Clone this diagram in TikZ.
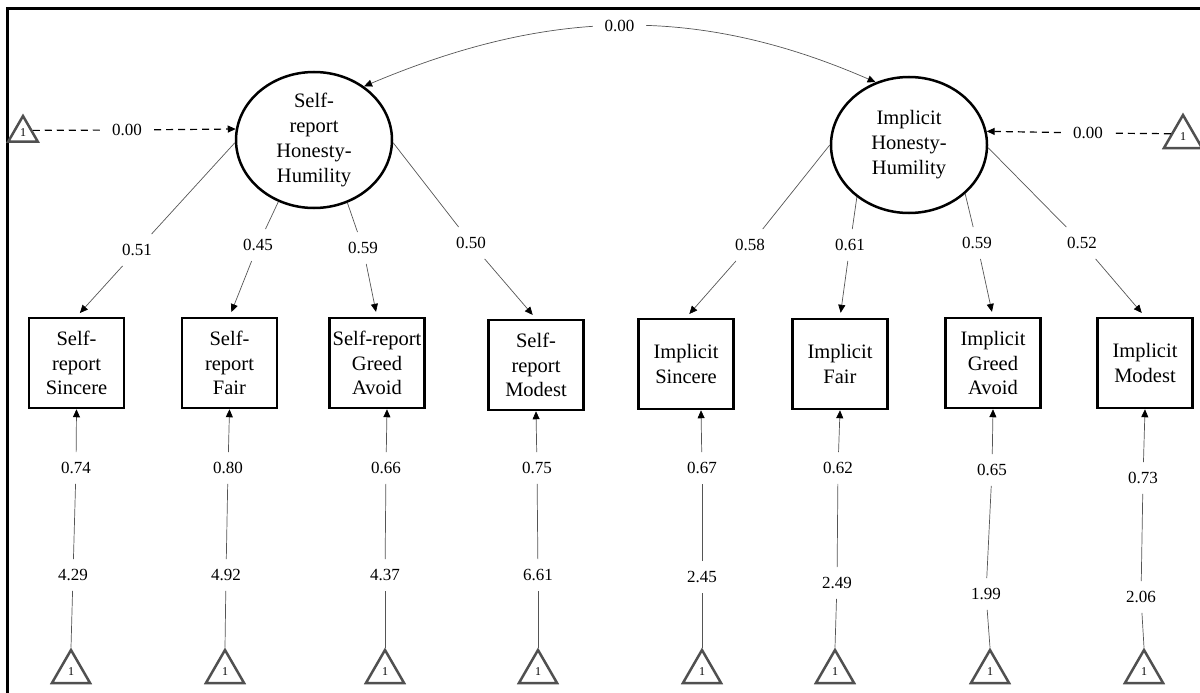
\documentclass[tikz,border=0pt]{standalone}
\usepackage{fontspec}
\setmainfont{Liberation Serif}
\usetikzlibrary{shapes.geometric,arrows.meta}
\definecolor{lg}{RGB}{85,85,85}
\definecolor{tg}{RGB}{80,80,80}
\begin{document}
\begin{tikzpicture}[x=1pt,y=-1pt,
  lat/.style={ellipse,draw,line width=2.5pt,minimum width=156pt,minimum height=136pt,inner sep=0pt,align=center,font=\fontsize{20.5}{25}\selectfont},
  obs/.style={rectangle,draw,line width=2.5pt,minimum width=95pt,minimum height=90pt,inner sep=0pt,align=center,font=\fontsize{20.5}{24.5}\selectfont},
  tri/.style={regular polygon,regular polygon sides=3,draw=tg,line width=2.5pt,minimum size=44pt,inner sep=0pt,font=\fontsize{12}{12}\selectfont},
  stri/.style={tri,minimum size=34pt},
  lab/.style={font=\fontsize{17}{17}\selectfont,inner xsep=12pt,inner ysep=10pt},
  con/.style={draw=lg,line width=0.7pt},
  tip/.style={-{Triangle[length=8pt,width=7pt,color=black]}},
  arr/.style={con,tip},
  dsh/.style={draw=black,line width=1.2pt,dash pattern=on 7pt off 5pt}
]
\useasboundingbox (0,0) rectangle (1200,693);
\draw[line width=3pt] (7.5,693) -- (7.5,8.5) -- (1200,8.5);

% latent variables
\node[lat] (L) at (314,140) {Self-\\report\\Honesty-\\Humility};
\node[lat] (R) at (909,145) {Implicit\\Honesty-\\Humility};

% observed
\node[obs] (B1) at (76.5,363) {Self-\\report\\Sincere};
\node[obs] (B2) at (229.5,363) {Self-\\report\\Fair};
\node[obs] (B3) at (377,363) {Self-report\\Greed\\Avoid};
\node[obs] (B4) at (536,365) {Self-\\report\\Modest};
\node[obs] (B5) at (686,364) {Implicit\\Sincere};
\node[obs] (B6) at (840,364) {Implicit\\Fair};
\node[obs] (B7) at (993,363) {Implicit\\Greed\\Avoid};
\node[obs] (B8) at (1145,363) {Implicit\\Modest};

% constants
\node[stri] (TL) at (23,133) {\raisebox{-3pt}{1}};
\node[tri] (TR) at (1183,137) {\raisebox{-3pt}{1}};
\node[tri] (T1) at (71,672) {\raisebox{-4pt}{1}};
\node[tri] (T2) at (225,672) {\raisebox{-4pt}{1}};
\node[tri] (T3) at (385,672) {\raisebox{-4pt}{1}};
\node[tri] (T4) at (538,672) {\raisebox{-4pt}{1}};
\node[tri] (T5) at (702,672) {\raisebox{-4pt}{1}};
\node[tri] (T6) at (835,672) {\raisebox{-4pt}{1}};
\node[tri] (T7) at (990,672) {\raisebox{-4pt}{1}};
\node[tri] (T8) at (1144,672) {\raisebox{-4pt}{1}};

% covariance arc
\draw[con,{Triangle[length=8pt,width=7pt,color=black]}-{Triangle[length=8pt,width=7pt,color=black]}]
  (L.47) .. controls (545,10) and (694,3) .. (R.118)
  node[lab,pos=0.5,fill=white,inner ysep=3pt] (a0) {0.00};

% means of latents (dashed)
\node[lab] (d1) at (127,130) {0.00};
\draw[dsh] (TL.15) -- (d1);
\draw[dsh,tip] (d1) -- (L.172);
\node[lab] (d2) at (1088,133) {0.00};
\draw[dsh] (TR.165) -- (d2);
\draw[dsh,tip] (d2) -- (R.10);

% loadings
\node[lab] (l1) at (137,250) {0.51};
\node[lab] (l2) at (258,245) {0.45};
\node[lab] (l3) at (363,248) {0.59};
\node[lab] (l4) at (471,243) {0.50};
\node[lab] (l5) at (750,245) {0.58};
\node[lab] (l6) at (850,245) {0.61};
\node[lab] (l7) at (977,243) {0.59};
\node[lab] (l8) at (1082,243) {0.52};
\draw[con] (L.182) -- (l1); \draw[arr,shorten >=5pt] (l1) -- (B1.north);
\draw[con] (L.240) -- (l2); \draw[arr,shorten >=5pt] (l2) -- (B2.north);
\draw[con] (L.298) -- (l3); \draw[arr,shorten >=5pt] (l3) -- (B3.north);
\draw[con] (L.358) -- (l4); \draw[arr,shorten >=5pt] (l4) -- (B4.north);
\draw[con] (R.180) -- (l5); \draw[arr,shorten >=5pt] (l5) -- (B5.north);
\draw[con] (R.225) -- (l6); \draw[arr,shorten >=5pt] (l6) -- (B6.north);
\draw[con] (R.319) -- (l7); \draw[arr,shorten >=5pt] (l7) -- (B7.north);
\draw[con] (R.358) -- (l8); \draw[arr,shorten >=5pt] (l8) -- (B8.north);

% intercepts and residual paths
\node[lab] (u1) at (73,575) {4.29};   \node[lab] (v1) at (76,468) {0.74};
\node[lab] (u2) at (226,575) {4.92};  \node[lab] (v2) at (228,468) {0.80};
\node[lab] (u3) at (385,575) {4.37};  \node[lab] (v3) at (386,468) {0.66};
\node[lab] (u4) at (538,575) {6.61};  \node[lab] (v4) at (537,468) {0.75};
\node[lab] (u5) at (702,577) {2.45};  \node[lab] (v5) at (702,468) {0.67};
\node[lab] (u6) at (837,583) {2.49};  \node[lab] (v6) at (838,468) {0.62};
\node[lab] (u7) at (986,594) {1.99};  \node[lab] (v7) at (992,470) {0.65};
\node[lab] (u8) at (1141,597) {2.06}; \node[lab] (v8) at (1143,478) {0.73};

\draw[con] (T1.corner 1) -- (u1); \draw[con] (u1) -- (v1); \draw[arr] (v1) -- (B1.south);
\draw[con] (T2.corner 1) -- (u2); \draw[con] (u2) -- (v2); \draw[arr] (v2) -- (B2.south);
\draw[con] (T3.corner 1) -- (u3); \draw[con] (u3) -- (v3); \draw[arr] (v3) -- ([xshift=10pt]B3.south);
\draw[con] (T4.corner 1) -- (u4); \draw[con] (u4) -- (v4); \draw[arr] (v4) -- (B4.south);
\draw[con] (T5.corner 1) -- (u5); \draw[con] (u5) -- (v5); \draw[arr] (v5) -- ([xshift=15pt]B5.south);
\draw[con] (T6.corner 1) -- (u6); \draw[con] (u6) -- (v6); \draw[arr] (v6) -- (B6.south);
\draw[con] (T7.corner 1) -- (u7); \draw[con] (u7) -- (v7); \draw[arr] (v7) -- (B7.south);
\draw[con] (T8.corner 1) -- (u8); \draw[con] (u8) -- (v8); \draw[arr] (v8) -- (B8.south);
\end{tikzpicture}
\end{document}
